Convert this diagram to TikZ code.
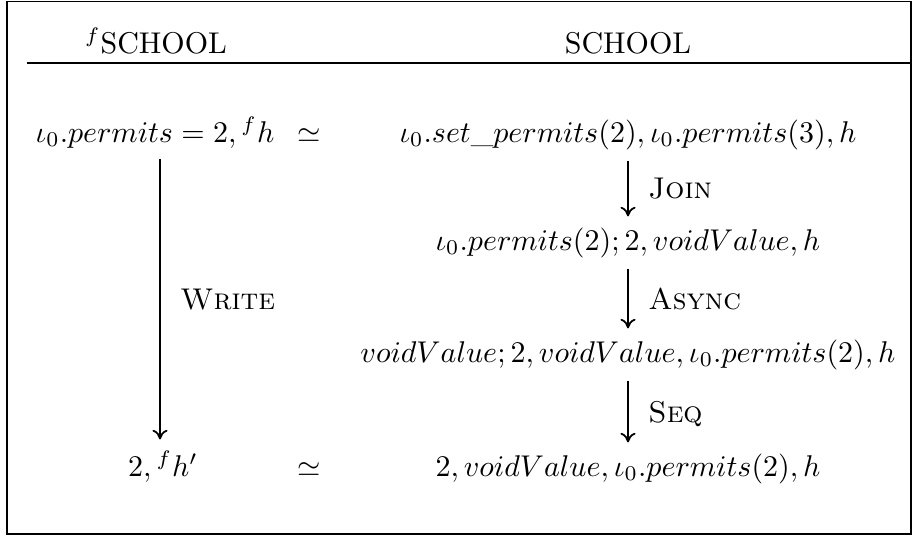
\documentclass[tikz,border=0pt]{standalone}
\usetikzlibrary{arrows.meta}
\begin{document}
\begin{tikzpicture}[x=0.3333pt, y=-0.3333pt,
  txt/.style={anchor=base, inner sep=3.5pt},
  lbl/.style={anchor=west, inner sep=0pt, text depth=0pt, xshift=6.5pt},
  arr/.style={line width=0.6pt, -{Computer Modern Rightarrow[length=3.2pt,width=5pt]}},
  frame/.style={line width=0.5pt}]
\useasboundingbox (0,0) rectangle (913,536);
\draw[frame] (7,1.5) rectangle (911,534);

% column headings and rule
\node[txt] (tl) at (156,53) {${}^f$SCHOOL};
\node[txt] (tr) at (628,53) {SCHOOL};
\coordinate (rl) at (27,63);
\coordinate (rr) at (911,63);
\draw[frame] (rl) -- (rr);

% left column
\node[txt] (a1) at (155,142) {$\iota_0.permits = 2, {}^fh$};
\node[txt] (s1) at (309,142) {$\simeq$};
\node[txt] (a4) at (163,476) {$2, {}^fh'$};
\node[txt] (s4) at (309,476) {$\simeq$};
\coordinate (lx) at (160,0);

% right column
\node[txt] (b1) at (628,142) {$\iota_0.set\_permits(2), \iota_0.permits(3), h$};
\node[txt] (b2) at (628,250) {$\iota_0.permits(2); 2, voidValue, h$};
\node[txt] (b3) at (628,362) {$voidValue; 2, voidValue, \iota_0.permits(2), h$};
\node[txt] (b4) at (628,476) {$2, voidValue, \iota_0.permits(2), h$};

% reductions
\draw[arr] (a1.south -| lx) -- node[lbl] (lw) {\textsc{Write}} (a4.north -| lx);
\draw[arr] (b1.south) -- node[lbl] (lj) {\textsc{Join}} (b2.north);
\draw[arr] (b2.south) -- node[lbl] (la) {\textsc{Async}} (b3.north);
\draw[arr] (b3.south) -- node[lbl] (ls) {\textsc{Seq}} (b4.north);
\end{tikzpicture}
\end{document}
